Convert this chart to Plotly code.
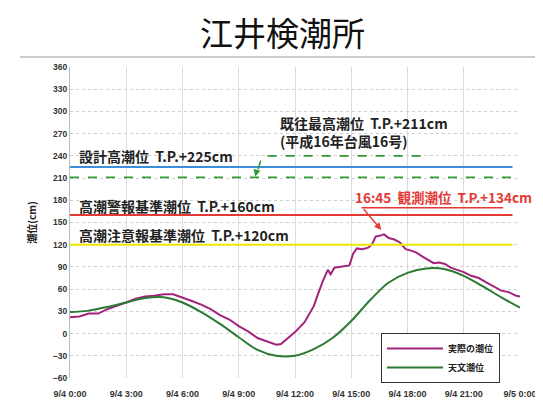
import plotly.graph_objects as go

# ---- data ----
TITLE = "江井検潮所"
ACTUAL_HOURS = [0, 0.5, 1, 1.5, 2, 2.5, 3, 3.5, 4, 4.5, 5, 5.5, 6, 6.5, 7, 7.5, 8, 8.5, 9, 9.5,
                10, 10.5, 11, 11.25, 11.5, 12, 12.5, 13, 13.25, 13.5, 13.75, 13.9, 14.1, 14.5, 14.9,
                15.1, 15.3, 15.6, 15.9, 16.1, 16.3, 16.5, 16.75, 17.0, 17.3, 17.6, 17.9, 18.2, 18.5,
                18.8, 19.1, 19.4, 19.7, 20.0, 20.3, 20.7, 21.0, 21.4, 21.8, 22.2, 22.6, 23.0, 23.4,
                23.8, 24.0]
ACTUAL_LEVEL = [22, 23, 27, 27, 33, 37, 42, 47, 50, 51, 53, 53, 49, 44, 39, 33, 25, 19, 10, 3,
                -6, -10, -15, -14, -9, 2, 15, 37, 55, 72, 86, 80, 89, 90, 92,
                108, 115, 114, 116, 120, 131, 132, 134, 129, 127, 123, 114, 112, 109,
                104, 100, 95, 96, 94, 89, 86, 83, 78, 75, 69, 63, 58, 56,
                51, 50]
ASTRO_HOURS = list(range(0, 25))
ASTRO_LEVEL = [29, 31, 36, 42, 48, 49, 42, 29, 13, -5, -22, -30, -30, -21, -6, 17, 45, 69, 82, 88,
               87, 78, 64, 49, 35]
SERIES_NAMES = ["実際の潮位", "天文潮位"]

LEVEL_VALUES = [225, 211, 160, 120]
LEVEL_LABELS = ["設計高潮位  T.P.+225cm",
                "既往最高潮位  T.P.+211cm<br>(平成16年台風16号)",
                "高潮警報基準潮位  T.P.+160cm",
                "高潮注意報基準潮位  T.P.+120cm"]
OBS_LABEL = "16:45  観測潮位  T.P.+134cm"

X_TICKS = [0, 3, 6, 9, 12, 15, 18, 21, 24]
X_TICK_TEXT = ["9/4 0:00", "9/4 3:00", "9/4 6:00", "9/4 9:00", "9/4 12:00",
               "9/4 15:00", "9/4 18:00", "9/4 21:00", "9/5 0:00"]
Y_TICKS = list(range(-60, 361, 30))

JP = "Noto Sans CJK JP"
BLUE, DGREEN, RED, YELLOW = "#3b8ed8", "#2f9a35", "#e53935", "#ece600"

# page body has an 8px margin: figure is sized to fit the 543x400 window
W, H = 535, 392
ML, MT, MR, MB = 62, 59, 23, 22
PH = H - MT - MB
PW = W - ML - MR

fig = go.Figure()
fig.add_trace(go.Scatter(x=ACTUAL_HOURS, y=ACTUAL_LEVEL, mode="lines", name=SERIES_NAMES[0],
                         line=dict(color="#a3237c", width=2)))
fig.add_trace(go.Scatter(x=ASTRO_HOURS, y=ASTRO_LEVEL, mode="lines", name=SERIES_NAMES[1],
                         line=dict(color="#2c7a32", width=2, shape="spline", smoothing=1)))

# reference level lines
styles = [dict(color=BLUE, width=2), dict(color=DGREEN, width=1.6, dash="dash"),
          dict(color=RED, width=2), dict(color=YELLOW, width=2)]
for v, st in zip(LEVEL_VALUES, styles):
    fig.add_shape(type="line", xref="x", yref="y", x0=0, x1=23.6, y0=v, y1=v, line=st, layer="above")

# leader for historical max
fig.add_shape(type="path", xref="x", yref="y",
              path="M 18.7 240 L 10.7 240 Q 10.3 240 10.2 236 L 9.95 215",
              line=dict(color=DGREEN, width=1.6, dash="dash"))
fig.add_annotation(x=9.88, y=212, ax=9.97, ay=221, xref="x", yref="y", axref="x", ayref="y",
                   text="", showarrow=True, arrowhead=2, arrowsize=1, arrowwidth=1.4, arrowcolor=DGREEN)
# red underline + arrow for observed peak
fig.add_shape(type="line", xref="x", yref="y", x0=15.55, x1=23.1, y0=170, y1=170,
              line=dict(color=RED, width=1.6))
fig.add_annotation(x=16.6, y=140, ax=15.6, ay=170, xref="x", yref="y", axref="x", ayref="y",
                   text="", showarrow=True, arrowhead=2, arrowsize=1, arrowwidth=1.4, arrowcolor=RED)

label_font = dict(family=JP, size=14, color="#222", weight="bold")
label_pos = [(0.37, 240), (11.1, 272), (0.37, 172), (0.37, 133)]
for (x, y), t in zip(label_pos, LEVEL_LABELS):
    fig.add_annotation(x=x, y=y, xref="x", yref="y", text=t, showarrow=False, xanchor="left",
                       yanchor="middle", align="left", font=label_font)
fig.add_annotation(x=15.1, y=184, xref="x", yref="y", text=OBS_LABEL, showarrow=False,
                   xanchor="left", yanchor="middle",
                   font=dict(family=JP, size=13.5, color=RED, weight="bold"))

# title and separator (absolute window pixels converted to plot-paper fractions)
def py(abs_y):
    return 1 + (MT + 8 - abs_y) / PH

def px(abs_x):
    return (abs_x - 8 - ML) / PW

fig.add_annotation(x=px(282), y=py(32), xref="paper", yref="paper", text=TITLE, showarrow=False,
                   xanchor="center", yanchor="middle", font=dict(family=JP, size=33, color="#111"))
fig.add_shape(type="line", xref="paper", yref="paper", x0=px(20), x1=px(543), y0=py(57), y1=py(57),
              line=dict(color="#999", width=1))

fig.update_layout(
    width=W, height=H,
    margin=dict(l=ML, r=MR, t=MT, b=MB, autoexpand=False),
    paper_bgcolor="white", plot_bgcolor="white",
    showlegend=True,
    legend=dict(x=px(381), y=py(333), xanchor="left", yanchor="top", bgcolor="white",
                bordercolor="#333", borderwidth=1,
                font=dict(family=JP, size=9, color="#222", weight="bold"),
                itemwidth=56, tracegroupgap=0),
    xaxis=dict(range=[0, 24], tickvals=X_TICKS, ticktext=X_TICK_TEXT, showgrid=True,
               gridcolor="#dcdcdc", gridwidth=1, zeroline=False, showline=False, ticks="",
               ticklabelstandoff=9, automargin=False,
               tickfont=dict(family="Liberation Sans", size=9, color="#333", weight="bold")),
    yaxis=dict(range=[-60, 360], tickvals=Y_TICKS, showgrid=True, gridcolor="#cfcfcf",
               griddash="dot", zeroline=False, showline=True, linecolor="#bbb", ticks="",
               automargin=False,
               tickfont=dict(family="Liberation Sans", size=8.5, color="#333", weight="bold"),
               title=dict(text="潮位(cm)", standoff=14,
                          font=dict(family=JP, size=10, color="#222", weight="bold"))),
)

fig.write_html("out.html")
